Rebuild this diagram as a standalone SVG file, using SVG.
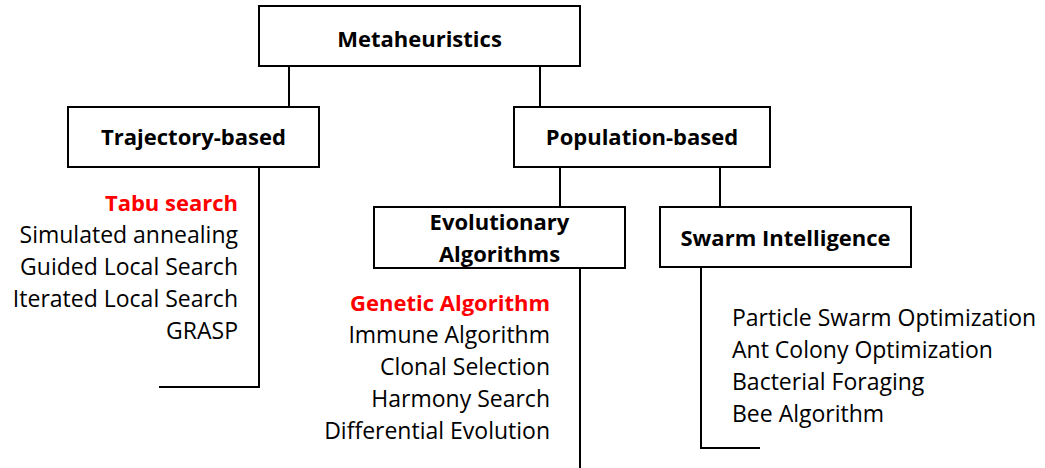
<svg xmlns="http://www.w3.org/2000/svg" width="1045" height="468" viewBox="0 0 1045 468">
<style>
.box{fill:#fff;stroke:#000;stroke-width:2}
.ln{fill:none;stroke:#000;stroke-width:2}
.h{font-family:"Open Sans","Noto Sans",sans-serif;font-weight:bold;font-size:22px;text-anchor:middle;fill:#000}
.t{font-family:"Open Sans","Noto Sans",sans-serif;font-size:23px;fill:#000}
.r{text-anchor:end}
.red{fill:#ff0000;font-weight:bold;font-size:22px}
</style>
<rect width="1045" height="468" fill="#fff"/>
<g id="connectors">
<path class="ln" d="M289 66V107M540 66V107"/>
<path class="ln" d="M259 167V387H159"/>
<path class="ln" d="M560 167V207M720 167V207"/>
<path class="ln" d="M580 268V468"/>
<path class="ln" d="M701 267V448H760"/>
</g>
<g id="metaheuristics"><rect class="box" x="259" y="6" width="321" height="60"/><text class="h" x="419.5" y="47">Metaheuristics</text></g>
<g id="trajectory"><rect class="box" x="68" y="107" width="251" height="60"/><text class="h" x="193.5" y="145">Trajectory-based</text></g>
<g id="population"><rect class="box" x="514" y="107" width="256" height="60"/><text class="h" x="642" y="145">Population-based</text></g>
<g id="evolutionary"><rect class="box" x="374" y="207" width="251" height="61"/><text class="h" x="499.5" y="230">Evolutionary</text><text class="h" x="499.5" y="262">Algorithms</text></g>
<g id="swarm"><rect class="box" x="660" y="207" width="251" height="60"/><text class="h" x="785.5" y="246">Swarm Intelligence</text></g>
<g id="trajectory-list">
<text class="t r red" x="238" y="211">Tabu search</text>
<text class="t r" x="238" y="243">Simulated annealing</text>
<text class="t r" x="238" y="275">Guided Local Search</text>
<text class="t r" x="238" y="307">Iterated Local Search</text>
<text class="t r" x="238" y="339">GRASP</text>
</g>
<g id="evolutionary-list">
<text class="t r red" x="550" y="311">Genetic Algorithm</text>
<text class="t r" x="550" y="343">Immune Algorithm</text>
<text class="t r" x="550" y="375">Clonal Selection</text>
<text class="t r" x="550" y="407">Harmony Search</text>
<text class="t r" x="550" y="439">Differential Evolution</text>
</g>
<g id="swarm-list">
<text class="t" x="732" y="326">Particle Swarm Optimization</text>
<text class="t" x="732" y="358">Ant Colony Optimization</text>
<text class="t" x="732" y="390">Bacterial Foraging</text>
<text class="t" x="732" y="422">Bee Algorithm</text>
</g>
</svg>
